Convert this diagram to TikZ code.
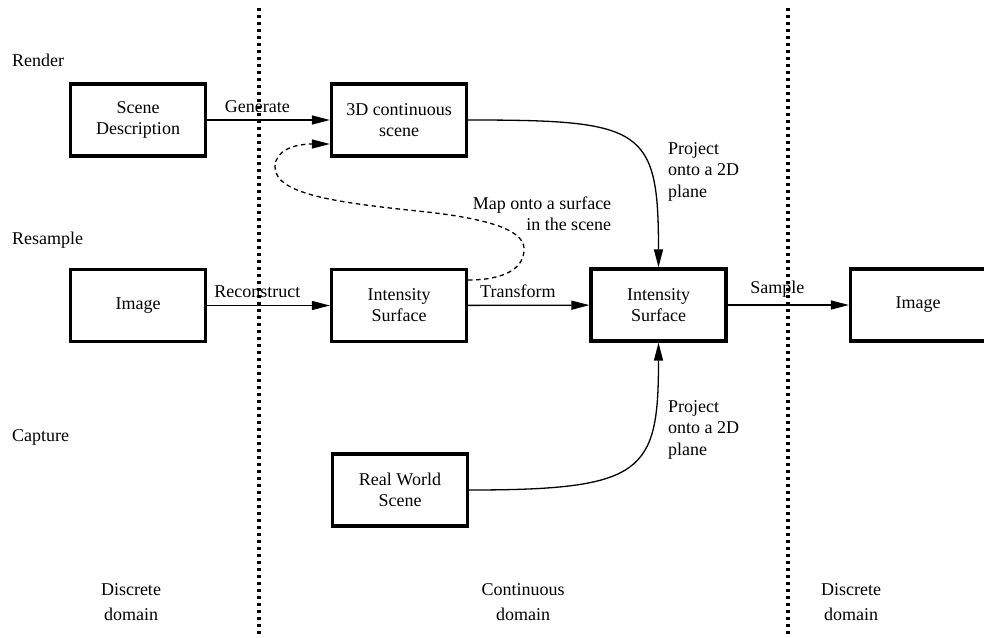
\documentclass[tikz,border=0pt]{standalone}
\usepackage{fontspec}
\setmainfont{Liberation Serif}
\usetikzlibrary{arrows.meta}

\begin{document}
\begin{tikzpicture}[x=1pt,y=-1pt,
  every node/.style={font=\fontsize{18}{21}\selectfont},
  stagebox/.style={draw,line width=3.2pt,minimum width=135pt,minimum height=72pt,align=center,inner sep=0pt},
  flow/.style={line width=1.3pt,-{Triangle[length=18pt,width=9pt]}},
  mapflow/.style={flow,dash pattern=on 4.5pt off 3.5pt},
  divider/.style={line width=3.2pt,dash pattern=on 3pt off 4pt},
  lbl/.style={inner sep=0pt,above=7pt,pos=0.41},
  note/.style={align=left,anchor=north west,inner sep=0pt,font=\fontsize{18}{21.5}\selectfont}]
\useasboundingbox (0,0) rectangle (984,637);
\clip (0,0) rectangle (984,637);

% domain dividers
\coordinate (d1top) at (259,8);
\coordinate (d1bot) at (259,637);
\coordinate (d2top) at (788,8);
\coordinate (d2bot) at (788,637);
\draw[divider] (d1top) -- (d1bot);
\draw[divider] (d2top) -- (d2bot);

% row labels
\node[anchor=west,inner sep=0pt] (render) at (12,60) {Render};
\node[anchor=west,inner sep=0pt] (resample) at (12,240) {Resample};
\node[anchor=west,inner sep=0pt] (capture) at (12,437) {Capture};

% stages
\node[stagebox] (scene) at (138,120) {Scene\\Description};
\node[stagebox] (cont3d) at (399,120) {3D continuous\\scene};
\node[stagebox] (imgin) at (138,305.5) {Image};
\node[stagebox] (isurf1) at (399,305.5) {Intensity\\Surface};
\node[stagebox] (isurf2) at (658.5,305) {Intensity\\Surface};
\node[stagebox] (imgout) at (918,305) {Image};
\node[stagebox] (real) at (400,490) {Real World\\Scene};

% straight transitions
\draw[flow] (scene) -- node[lbl] {Generate} (cont3d);
\draw[flow] (imgin) -- node[lbl] {Reconstruct} (isurf1);
\draw[flow] (isurf1) -- node[lbl] {Transform} (isurf2);
\draw[flow] (isurf2) -- node[lbl] {Sample} (imgout);

% projections onto the image plane
\draw[flow] (cont3d.east) .. controls +(175,0) and +(0,-140) .. (isurf2.north);
\draw[flow] (real.east) .. controls +(175,0) and +(0,130) .. (isurf2.south);
\node[note] (proj1) at (668,142) {Project\\onto a 2D\\plane};
\node[note] (proj2) at (668,400) {Project\\onto a 2D\\plane};

% texture mapping loop
\coordinate (mapstart) at (isurf1.east |- 0,280);
\coordinate (mapend) at (cont3d.west |- 0,144);
\draw[mapflow] (mapstart) .. controls (505,280) and (525,268) .. (524,248)
  .. controls (523,228) and (480,218) .. (427,212)
  .. controls (340,203) and (275,195) .. (275,167)
  .. controls (275,150) and (295,144) .. (mapend);
\node[align=right,inner sep=0pt] (maplbl) at (542,214) {Map onto a surface\\in the scene};

% domain labels
\node[align=center,font=\fontsize{18}{25}\selectfont] (disc1) at (131,602) {Discrete\\domain};
\node[align=center,font=\fontsize{18}{25}\selectfont] (contd) at (523,602) {Continuous\\domain};
\node[align=center,font=\fontsize{18}{25}\selectfont] (disc2) at (851,602) {Discrete\\domain};
\end{tikzpicture}
\end{document}
